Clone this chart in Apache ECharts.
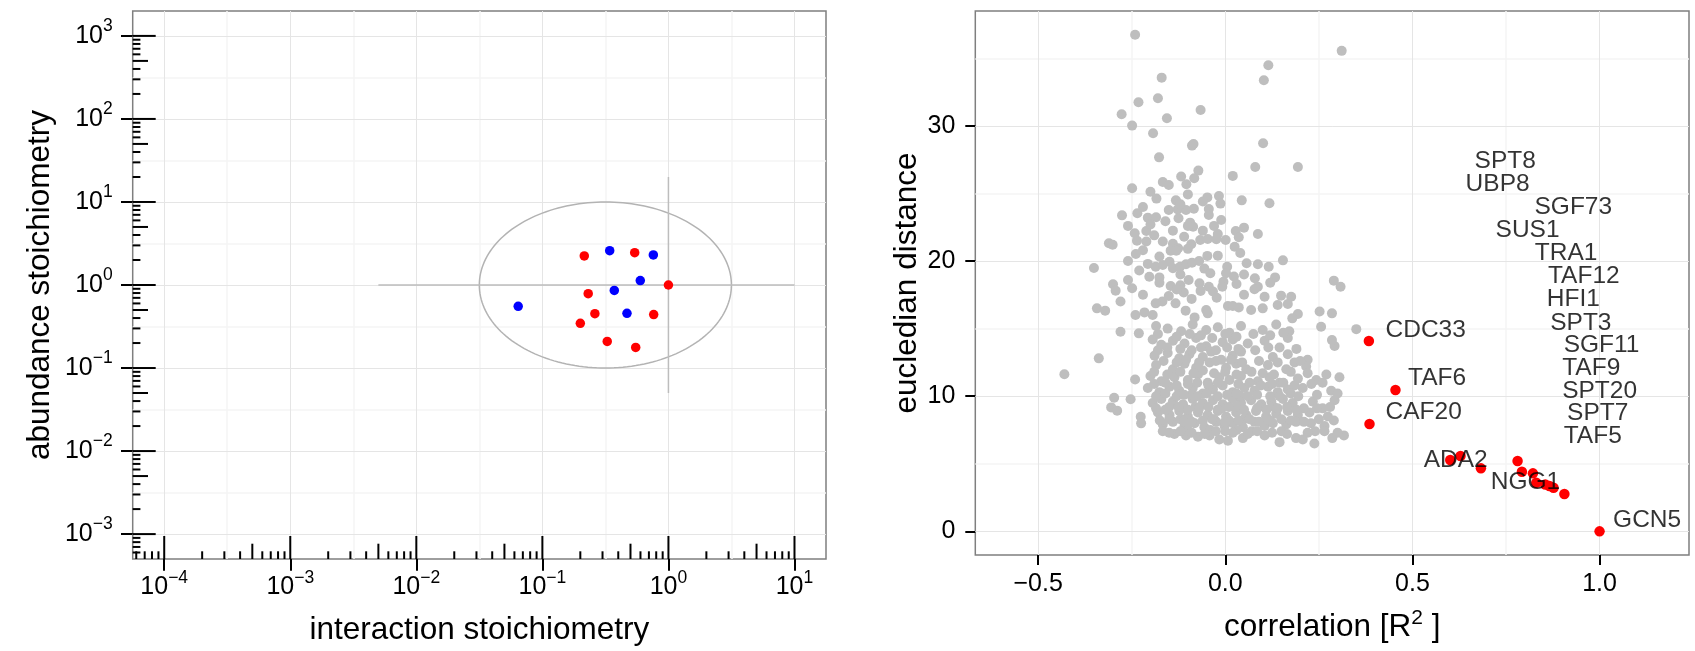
<!DOCTYPE html>
<html><head><meta charset="utf-8">
<script src="https://cdn.jsdelivr.net/npm/echarts@6/dist/echarts.min.js"></script>
<style>html,body{margin:0;padding:0;background:#fff}#c{width:1695px;height:651px}</style>
</head><body><div id="c"></div>
<script>
const FONT = '"Liberation Sans", Arial, Helvetica, sans-serif';

// ---------- Left panel data (raw values, log10 scale axes) ----------
const redInteraction = [0.215, 0.54, 1.0, 0.231, 0.261, 0.764, 0.200, 0.327, 0.55];
const redAbundance   = [2.24, 2.45, 1.0, 0.785, 0.452, 0.44, 0.346, 0.209, 0.177];
const blueInteraction = [0.342, 0.759, 0.598, 0.372, 0.0643, 0.469];
const blueAbundance   = [2.59, 2.30, 1.13, 0.86, 0.553, 0.456];
const refHLineX = [0.005, 10];   const refHLineY = 1;
const refVLineY = [0.05, 20];    const refVLineX = 1;
const ellipseCenter = [0.316, 1];  // interaction, abundance
const ellipseRadiusDecades = 1;
const leftXTickExps = [-4, -3, -2, -1, 0, 1];
const leftYTickExps = [-3, -2, -1, 0, 1, 2, 3];

// ---------- Right panel data ----------
const corrTicks = [-0.5, 0, 0.5, 1.0];
const distTicks = [0, 10, 20, 30];
const grayPoints = [
[-0.241,36.74],[0.311,35.55],[0.115,34.49],[0.103,33.38],[-0.170,33.57],[-0.180,32.05],[-0.232,31.75],[-0.277,30.86],[-0.156,30.56],[-0.249,30.02],[-0.066,31.18],[-0.193,29.45],[-0.089,28.54],[-0.085,28.66],[0.101,28.71],[-0.177,27.67],[0.080,26.96],[0.194,26.96],[-0.072,26.69],[0.020,26.30],[-0.118,26.25],[-0.083,26.12],[-0.167,25.85],[-0.151,25.63],[-0.104,25.68],[-0.249,25.38],[-0.200,25.13],[-0.184,24.62],[-0.100,24.93],[-0.048,24.71],[-0.017,24.81],[0.044,24.49],[-0.013,24.25],[0.118,24.27],[-0.132,24.49],[-0.276,23.38],[-0.235,23.53],[-0.207,23.21],[-0.185,23.24],[-0.151,23.77],[-0.127,23.82],[-0.105,23.77],[-0.084,23.87],[-0.044,23.85],[-0.044,23.41],[-0.160,22.94],[-0.125,23.16],[-0.094,22.84],[-0.011,23.04],[-0.242,22.05],[-0.211,22.22],[-0.086,22.54],[-0.060,22.25],[-0.140,22.25],[0.028,22.22],[0.050,22.47],[0.036,21.76],[0.087,22.00],[-0.311,21.31],[-0.301,21.21],[-0.236,21.51],[-0.211,21.44],[-0.167,21.44],[-0.140,21.27],[-0.126,20.95],[-0.091,21.24],[-0.067,21.56],[-0.047,21.63],[-0.024,21.61],[0.001,21.56],[0.025,21.06],[-0.239,20.52],[-0.176,20.33],[-0.146,20.77],[-0.131,20.77],[-0.048,20.38],[-0.207,19.79],[-0.186,19.58],[-0.167,19.71],[-0.149,19.95],[-0.140,19.46],[-0.121,19.58],[-0.105,19.76],[-0.089,19.88],[-0.056,19.44],[0.005,19.58],[0.002,19.09],[0.057,19.83],[0.087,19.76],[0.116,19.58],[0.154,20.05],[0.133,18.79],[-0.351,19.49],[-0.260,18.60],[-0.300,18.28],[-0.293,17.81],[-0.249,17.98],[-0.203,18.84],[-0.176,18.79],[-0.176,18.40],[-0.146,18.15],[-0.098,18.60],[-0.069,18.35],[-0.066,17.79],[-0.044,18.10],[-0.005,18.47],[-0.008,18.10],[0.023,18.86],[0.079,18.72],[0.087,18.10],[0.078,17.91],[0.105,17.36],[0.149,17.44],[0.176,17.36],[0.140,16.75],[0.167,16.82],[0.290,18.55],[0.308,18.10],[-0.111,17.67],[-0.133,16.87],[-0.151,17.41],[-0.168,17.00],[-0.186,16.87],[-0.033,17.74],[-0.023,17.29],[0.007,16.67],[0.020,16.67],[0.036,16.57],[-0.343,16.50],[-0.321,16.33],[0.069,16.38],[0.252,16.26],[0.285,16.13],[-0.240,16.01],[-0.216,16.20],[-0.194,16.01],[-0.106,16.33],[-0.082,15.83],[-0.051,16.38],[-0.047,16.13],[0.194,16.08],[0.179,15.76],
[-0.22,24.0],[-0.12,24.2],[-0.06,24.4],[-0.2,22.7],[-0.1,22.6],[-0.03,22.6],[-0.26,22.6],[-0.19,21.9],[-0.11,21.8],[-0.02,22.0],[-0.26,20.0],[-0.22,20.8],[-0.1,20.9],[-0.02,20.4],[0.04,20.6],[-0.07,20.0],[-0.23,19.3],[-0.12,19.0],[-0.04,19.1],[0.05,19.0],[0.03,18.3],[-0.12,18.2],[-0.22,17.5],[-0.13,17.9],[-0.09,17.2],[0.05,17.5],[-0.28,17.0],[0.1,16.5],[0.12,18.4],
[-0.280,14.77],[-0.231,14.65],[0.350,14.96],[0.256,15.14],[0.292,13.71],[0.285,14.15],[-0.338,12.80],[-0.430,11.62],[-0.241,11.24],[-0.253,9.77],[-0.297,9.89],[-0.305,9.17],[-0.289,8.93],[-0.226,8.48],[-0.225,7.99],
[-0.185,15.2],[-0.154,15.0],[-0.118,14.8],[-0.087,15.3],[-0.051,14.9],[-0.020,15.1],[0.011,14.7],[0.042,15.2],[0.100,14.9],[0.136,15.3],[0.171,14.8],
[-0.194,14.2],[-0.171,13.8],[-0.140,14.1],[-0.109,13.9],[-0.078,14.3],[-0.051,13.7],[-0.007,14.0],[0.020,14.2],[0.060,13.9],[0.105,14.1],[0.145,13.6],[0.167,14.3],
[-0.189,13.0],[-0.154,13.2],[-0.123,12.8],[-0.096,13.1],[-0.060,12.9],[-0.038,13.3],[-0.011,12.7],[0.020,13.0],[0.042,13.3],[0.127,12.9],[0.167,13.1],[0.220,12.7],
[-0.185,12.3],[-0.140,12.0],[-0.109,12.4],[-0.078,12.1],[-0.042,12.5],[0.002,12.1],[0.029,12.4],[0.056,12.0],[0.114,12.3],[0.163,12.0],[0.185,12.5],[0.216,12.2],
[-0.200,11.5],[-0.171,11.1],[-0.136,11.4],[-0.100,11.2],[-0.073,11.6],[-0.047,11.0],[-0.016,11.4],[0.011,11.2],[0.042,11.5],[0.087,11.1],[0.118,11.4],[0.145,11.0],[0.194,11.3],[0.243,11.2],[0.305,11.4],
[-0.207,10.6],[-0.176,10.3],[-0.149,10.7],[-0.123,10.4],[-0.087,10.6],[-0.060,10.2],[-0.033,10.5],[-0.007,10.8],[0.020,10.3],[0.051,10.6],[0.078,10.4],[0.114,10.7],[0.140,10.3],[0.167,10.5],[0.207,10.6],[0.283,10.4],
[-0.194,9.5],[-0.171,9.8],[-0.140,9.6],[-0.113,9.4],[-0.087,9.8],[-0.060,9.5],[-0.033,9.7],[-0.007,9.4],[0.020,9.8],[0.042,9.5],[0.069,9.7],[0.096,9.4],[0.123,9.6],[0.154,9.8],[0.180,9.5],[0.234,9.6],[0.292,9.7],
[-0.180,8.8],[-0.149,8.6],[-0.123,8.9],[-0.100,8.5],[-0.073,8.8],[-0.047,8.6],[-0.020,8.9],[0.002,8.5],[0.029,8.8],[0.056,8.6],[0.082,8.9],[0.109,8.5],[0.136,8.7],[0.167,8.9],[0.194,8.6],[0.225,8.8],[0.274,8.5],
[-0.167,7.9],[-0.140,8.1],[-0.109,7.8],[-0.082,8.0],[-0.056,7.7],[-0.024,8.1],[-0.002,7.8],[0.020,8.0],[0.047,7.7],[0.078,8.1],[0.105,7.8],[0.127,8.0],[0.163,7.9],[0.189,8.1],[0.229,8.0],[0.265,7.8],
[-0.167,7.4],[-0.136,7.2],[-0.105,7.1],[-0.073,7.0],[-0.042,7.1],[-0.016,6.8],[0.007,6.7],[0.047,6.9],[0.105,7.1],[0.145,6.6],[0.189,6.9],[0.207,6.8],[0.238,6.5],[0.286,6.9],[0.317,7.1],
[-0.03,8.3],[-0.01,9.1],[0.01,8.2],[0.03,9.2],[-0.06,8.2],[-0.08,9.2],[0.05,8.3],[-0.12,8.3],[-0.04,7.5],[0.0,7.4],[0.03,7.5],[-0.1,7.5],[0.07,7.4],[0.09,9.2],[0.11,8.3],[-0.15,9.2],[-0.02,10.0],[0.04,10.0],[-0.09,10.1],[0.12,10.0],[-0.13,10.0],[0.26,9.1],[0.21,9.1],[0.24,7.4],[0.15,7.4],[0.13,9.2],
[-0.18,14.6],[-0.13,14.4],[-0.095,14.6],[-0.065,14.5],[-0.035,14.3],[0.0,14.6],[0.03,14.4],[0.075,14.6],[0.12,14.5],[0.155,14.7],
[-0.18,13.4],[-0.155,13.6],[-0.12,13.5],[-0.09,13.4],[-0.065,13.6],[-0.025,13.4],[0.005,13.6],[0.035,13.5],[0.08,13.4],[0.115,13.6],[0.19,13.5],
[-0.165,12.6],[-0.13,12.5],[-0.105,12.7],[-0.07,12.5],[-0.025,12.6],[0.015,12.7],[0.045,12.5],[0.09,12.6],[0.14,12.5],[0.2,12.6],
[-0.19,11.8],[-0.155,11.6],[-0.12,11.8],[-0.085,11.7],[-0.06,11.9],[-0.03,11.7],[0.0,11.8],[0.03,11.6],[0.07,11.8],[0.1,11.7],[0.13,11.6],[0.175,11.8],[0.22,11.7],[0.27,11.6],
[-0.19,10.9],[-0.16,11.0],[-0.13,10.8],[-0.1,10.9],[-0.075,11.0],[-0.045,10.8],[-0.02,11.0],[0.035,10.9],[0.065,11.0],[0.095,10.8],[0.125,10.9],[0.155,11.0],[0.185,10.8],[0.23,10.9],[0.26,11.0],
[-0.185,10.0],[-0.16,10.2],[-0.11,10.1],[-0.075,10.0],[-0.05,10.2],[0.005,10.1],[0.03,10.2],[0.06,10.0],[0.085,10.1],[0.145,10.0],[0.175,10.2],[0.195,10.0],[0.245,10.1],[0.3,10.2],
[-0.185,9.1],[-0.16,9.0],[-0.125,9.2],[-0.1,9.0],[-0.07,9.1],[-0.045,9.2],[-0.02,9.0],[0.01,9.2],[0.05,9.0],[0.085,9.1],[0.11,9.0],[0.14,9.1],[0.165,9.2],[0.19,9.0],[0.245,9.1],[0.28,9.2],
[-0.175,8.2],[-0.15,8.3],[-0.11,8.2],[-0.09,8.1],[-0.035,8.3],[0.0,8.1],[0.035,8.2],[0.065,8.3],[0.09,8.1],[0.12,8.2],[0.15,8.3],[0.175,8.2],[0.21,8.1],[0.25,8.3],[0.29,8.2],
[-0.15,7.3],[-0.12,7.4],[-0.09,7.3],[-0.055,7.2],[-0.025,7.4],[0.02,7.3],[0.06,7.2],[0.085,7.4],[0.125,7.3],[0.165,7.2],[0.22,7.3],[0.265,7.4],[0.3,7.3]
];
const redPoints = [
[0.3836,14.09],[0.4547,10.46],[0.3853,7.94],[0.601,5.28],[0.6285,5.57],[0.683,4.66],[0.781,5.20],[0.7925,4.41],[0.822,4.29],[0.831,3.60],[0.855,3.47],[0.866,3.35],[0.877,3.23],[0.906,2.76],[1.0,0.0]
];
const labelNames = ['SPT8','UBP8','SGF73','SUS1','TRA1','TAF12','HFI1','SPT3','SGF11','TAF9','SPT20','SPT7','TAF5','CDC33','TAF6','CAF20','ADA2','NGG1','GCN5'];
const labelCorr  = [0.666,0.642,0.826,0.722,0.827,0.862,0.859,0.868,0.904,0.900,0.900,0.913,0.904,0.428,0.488,0.428,0.530,0.709,1.036];
const labelDist  = [27.36,25.68,23.95,22.25,20.57,18.84,17.16,15.43,13.78,12.06,10.40,8.73,7.00,14.89,11.32,8.78,5.28,3.62,0.83];

// ---------- helpers ----------
const L = Math.log10;
const supText = n => (n < 0 ? '\u2212' + Math.abs(n) : '' + n);
const powRich = {
  b: {fontSize: 25, lineHeight: 25, verticalAlign: 'bottom', color: '#000', fontFamily: FONT},
  s: {fontSize: 17.5, lineHeight: 17.5, verticalAlign: 'bottom', padding: [0, 0, 13, 0], color: '#000', fontFamily: FONT}
};
const powFmt = v => '{b|10}{s|' + supText(Math.round(v)) + '}';
const majorStyle = {color: '#e5e5e5', width: 1, type: 'solid'};
const minorStyle = {color: '#f5f5f5', width: 1.5, type: 'solid'};
function gridLineData(xMaj, xMin, yMaj, yMin) {
  return [].concat(
    xMin.map(v => ({xAxis: v, lineStyle: minorStyle})),
    yMin.map(v => ({yAxis: v, lineStyle: minorStyle})),
    xMaj.map(v => ({xAxis: v, lineStyle: majorStyle})),
    yMaj.map(v => ({yAxis: v, lineStyle: majorStyle}))
  );
}
const leftXMin = [-3.5, -2.5, -1.5, -0.5, 0.5];
const leftYMin = [-2.5, -1.5, -0.5, 0.5, 1.5, 2.5];
const rightXMin = [-0.25, 0.25, 0.75];
const rightYMin = [5, 15, 25, 35];

const LX = [-4.25, 1.25], LY = [-3.3, 3.3];
// annotation log ticks (scale marks at k*10^n)
const logTicks = [];
for (let n = -5; n <= 3; n++) for (let k = 1; k <= 9; k++) {
  const v = L(k) + n, kind = k === 1 ? 3 : (k === 5 ? 2 : 1);
  if (v > LX[0] && v < LX[1] - 1e-6) logTicks.push([v, 0, kind, 0]);
  if (v > LY[0] && v < LY[1] - 1e-6) logTicks.push([0, v, kind, 1]);
}
const tickLen = [0, 7.7, 15.3, 23];

const axisTitle = {fontSize: 31.5, color: '#000', fontFamily: FONT};
const markBase = {silent: true, z: 1, symbol: ['none', 'none'], label: {show: false}, animation: false};

const chart = echarts.init(document.getElementById('c'), null, {renderer: 'canvas'});
chart.setOption({
  animation: false,
  backgroundColor: '#fff',
  textStyle: {fontFamily: FONT},
  grid: [
    {left: 132.7, top: 11, width: 693.3, height: 550.7, show: true, borderColor: '#7f7f7f', borderWidth: 1.5, backgroundColor: 'transparent'},
    {left: 975.3, top: 11, width: 713.7, height: 544, show: true, borderColor: '#7f7f7f', borderWidth: 1.5, backgroundColor: 'transparent'}
  ],
  xAxis: [
    {type: 'value', gridIndex: 0, min: LX[0], max: LX[1],
     axisLine: {show: false, onZero: false}, splitLine: {show: false},
     axisTick: {show: true, customValues: leftXTickExps, length: 11.7, lineStyle: {color: '#000', width: 2}},
     axisLabel: {customValues: leftXTickExps, margin: 16, formatter: powFmt, rich: powRich},
     name: 'interaction stoichiometry', nameLocation: 'middle', nameGap: 55, nameTextStyle: axisTitle},
    {type: 'value', gridIndex: 1, min: -0.668, max: 1.239,
     axisLine: {show: false, onZero: false}, splitLine: {show: false},
     axisTick: {show: true, customValues: corrTicks, length: 10, lineStyle: {color: '#000', width: 2}},
     axisLabel: {customValues: corrTicks, margin: 17, fontSize: 25, color: '#000', fontFamily: FONT,
                 formatter: v => (v < 0 ? '\u2212' : '') + Math.abs(v).toFixed(1)},
     name: '{t|correlation [R}{s|2}{t| ]}', nameLocation: 'middle', nameGap: 57,
     nameTextStyle: {rich: {
       t: {fontSize: 31.5, lineHeight: 31.5, verticalAlign: 'bottom', color: '#000', fontFamily: FONT},
       s: {fontSize: 21, lineHeight: 21, verticalAlign: 'bottom', padding: [0, 0, 15, 0], color: '#000', fontFamily: FONT}}}}
  ],
  yAxis: [
    {type: 'value', gridIndex: 0, min: LY[0], max: LY[1],
     axisLine: {show: false, onZero: false}, splitLine: {show: false},
     axisTick: {show: true, customValues: leftYTickExps, length: 11.7, lineStyle: {color: '#000', width: 2}},
     axisLabel: {customValues: leftYTickExps, margin: 20, formatter: powFmt, rich: powRich},
     name: 'abundance stoichiometry', nameLocation: 'middle', nameGap: 76, nameTextStyle: axisTitle},
    {type: 'value', gridIndex: 1, min: -1.75, max: 38.5,
     axisLine: {show: false, onZero: false}, splitLine: {show: false},
     axisTick: {show: true, customValues: distTicks, length: 10, lineStyle: {color: '#000', width: 2}},
     axisLabel: {customValues: distTicks, margin: 20, fontSize: 25, color: '#000', fontFamily: FONT},
     name: 'eucledian distance', nameLocation: 'middle', nameGap: 41, nameTextStyle: axisTitle}
  ],
  series: [
    {type: 'line', xAxisIndex: 0, yAxisIndex: 0, data: [], z: 1, silent: true,
     markLine: Object.assign({data: gridLineData(leftXTickExps, leftXMin, leftYTickExps, leftYMin)}, markBase)},
    {type: 'line', xAxisIndex: 1, yAxisIndex: 1, data: [], z: 1, silent: true,
     markLine: Object.assign({data: gridLineData(corrTicks, rightXMin, distTicks, rightYMin)}, markBase)},
    // reference cross lines
    {type: 'line', xAxisIndex: 0, yAxisIndex: 0, z: 2, silent: true, symbol: 'none',
     lineStyle: {color: '#bdbdbd', width: 1.5},
     data: refHLineX.map(x => [L(x), L(refHLineY)])},
    {type: 'line', xAxisIndex: 0, yAxisIndex: 0, z: 2, silent: true, symbol: 'none',
     lineStyle: {color: '#bdbdbd', width: 1.5},
     data: refVLineY.map(y => [L(refVLineX), L(y)])},
    // ellipse (circle in log space)
    {type: 'custom', xAxisIndex: 0, yAxisIndex: 0, z: 2, silent: true,
     data: [[L(ellipseCenter[0]), L(ellipseCenter[1]), ellipseRadiusDecades]],
     renderItem: (params, api) => {
       const cx = api.value(0), cy = api.value(1), r = api.value(2);
       const pts = [];
       for (let i = 0; i < 180; i++) {
         const a = i / 180 * Math.PI * 2;
         pts.push(api.coord([cx + r * Math.cos(a), cy + r * Math.sin(a)]));
       }
       return {type: 'polygon', shape: {points: pts}, style: {fill: 'none', stroke: '#b3b3b3', lineWidth: 1.5}};
     }},
    // log ticks inside panel
    {type: 'custom', xAxisIndex: 0, yAxisIndex: 0, z: 2, silent: true, clip: false,
     data: logTicks,
     renderItem: (params, api) => {
       const cs = params.coordSys;
       const len = tickLen[api.value(2)];
       if (api.value(3) === 0) {
         const x = api.coord([api.value(0), 0])[0];
         const yb = cs.y + cs.height;
         return {type: 'line', shape: {x1: x, y1: yb, x2: x, y2: yb - len}, style: {stroke: '#000', lineWidth: 2}};
       } else {
         const y = api.coord([0, api.value(1)])[1];
         return {type: 'line', shape: {x1: cs.x, y1: y, x2: cs.x + len, y2: y}, style: {stroke: '#000', lineWidth: 2}};
       }
     }},
    {type: 'scatter', xAxisIndex: 0, yAxisIndex: 0, z: 4, symbolSize: 9.5,
     itemStyle: {color: '#ff0000', opacity: 1},
     data: redInteraction.map((x, i) => [L(x), L(redAbundance[i])])},
    {type: 'scatter', xAxisIndex: 0, yAxisIndex: 0, z: 4, symbolSize: 9.5,
     itemStyle: {color: '#0000ff', opacity: 1},
     data: blueInteraction.map((x, i) => [L(x), L(blueAbundance[i])])},
    // right panel
    {type: 'scatter', xAxisIndex: 1, yAxisIndex: 1, z: 3, symbolSize: 10,
     itemStyle: {color: '#bebebe', opacity: 1}, data: grayPoints},
    {type: 'scatter', xAxisIndex: 1, yAxisIndex: 1, z: 4, symbolSize: 10.5,
     itemStyle: {color: '#ff0000', opacity: 1}, data: redPoints},
    {type: 'scatter', xAxisIndex: 1, yAxisIndex: 1, z: 5, symbolSize: 0.1, silent: true,
     itemStyle: {color: 'rgba(0,0,0,0)'},
     label: {show: true, position: 'right', distance: 0, formatter: p => p.name,
             fontSize: 24.5, color: '#000', fontFamily: FONT},
     data: labelNames.map((n, i) => ({name: n, value: [labelCorr[i], labelDist[i]]}))}
  ]
});
</script></body></html>
